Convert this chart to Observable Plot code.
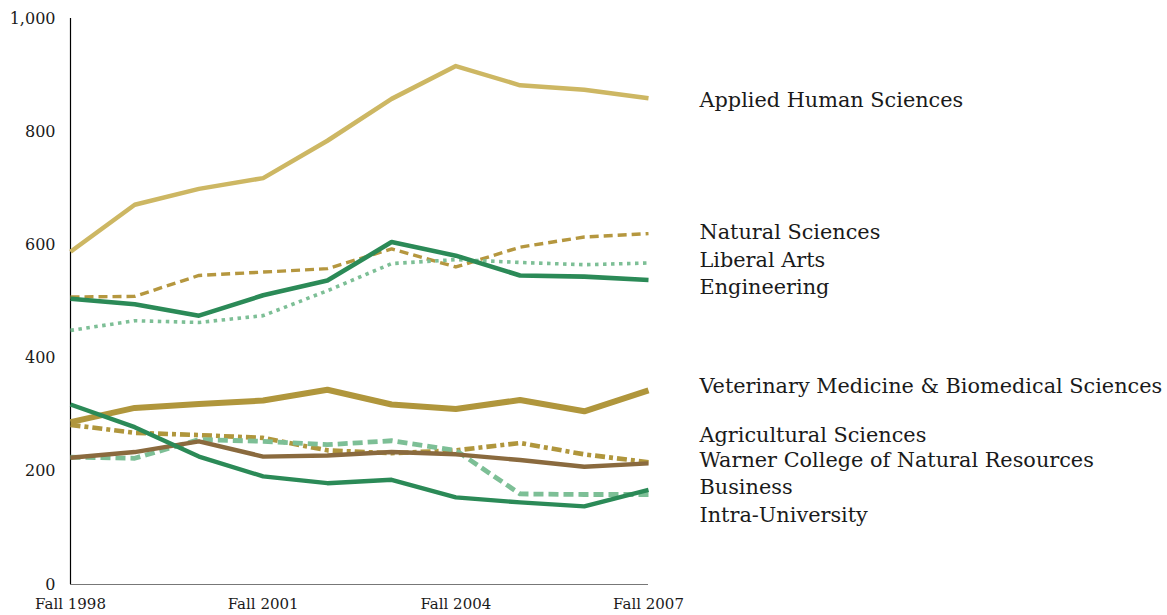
<!DOCTYPE html>
<html>
<head>
<meta charset="utf-8">
<script src="https://cdn.jsdelivr.net/npm/d3@7"></script>
<script src="https://cdn.jsdelivr.net/npm/@observablehq/plot@0.6"></script>
<style>
  html, body { margin: 0; padding: 0; background: #fff; }
  #chart { width: 1167px; height: 615px; }
</style>
</head>
<body>
<div id="chart"></div>
<script>
// ---- data ----
const years = [1998, 1999, 2000, 2001, 2002, 2003, 2004, 2005, 2006, 2007];
const xTicks = [1998, 2001, 2004, 2007];
const yTicks = [0, 200, 400, 600, 800, 1000];

const appliedHumanSciences = [588, 671, 699, 718, 784, 858, 916, 882, 874, 859];
const naturalSciences      = [508, 509, 546, 552, 558, 593, 561, 596, 614, 620];
const liberalArts          = [449, 466, 463, 475, 519, 567, 574, 569, 565, 568];
const engineering          = [505, 495, 475, 511, 537, 605, 581, 546, 544, 538];
const veterinaryMedicine   = [287, 312, 319, 325, 344, 318, 310, 326, 306, 343];
const agriculturalSciences = [282, 268, 264, 259, 237, 232, 237, 250, 230, 216];
const warnerCollege        = [224, 234, 253, 226, 228, 234, 230, 220, 208, 214];
const business             = [225, 223, 256, 253, 247, 254, 237, 160, 159, 159];
const intraUniversity      = [318, 278, 226, 191, 179, 185, 154, 145, 138, 167];

const seriesNames = [
  "Applied Human Sciences", "Natural Sciences", "Liberal Arts", "Engineering",
  "Veterinary Medicine & Biomedical Sciences", "Agricultural Sciences",
  "Warner College of Natural Resources", "Business", "Intra-University"
];
// label anchor values (data units) for the right-hand labels
const labelValues = [855, 622, 572, 525, 350, 263, 219, 171, 122];

// ---- styles ----
const styles = {
  "Applied Human Sciences": {stroke: "#CDB763", strokeWidth: 4.5},
  "Natural Sciences": {stroke: "#B5973F", strokeWidth: 3.4, strokeDasharray: "9,5"},
  "Liberal Arts": {stroke: "#7DBF96", strokeWidth: 3.6, strokeDasharray: "3.5,4.5"},
  "Engineering": {stroke: "#2B8A57", strokeWidth: 4.6},
  "Veterinary Medicine & Biomedical Sciences": {stroke: "#B0963C", strokeWidth: 6},
  "Agricultural Sciences": {stroke: "#B0963C", strokeWidth: 4.6, strokeDasharray: "10,4,4,4"},
  "Warner College of Natural Resources": {stroke: "#8A6A3E", strokeWidth: 4.4},
  "Business": {stroke: "#7DBF96", strokeWidth: 4.8, strokeDasharray: "10,5"},
  "Intra-University": {stroke: "#2B8A57", strokeWidth: 4.4}
};
const valuesByName = {
  "Applied Human Sciences": appliedHumanSciences,
  "Natural Sciences": naturalSciences,
  "Liberal Arts": liberalArts,
  "Engineering": engineering,
  "Veterinary Medicine & Biomedical Sciences": veterinaryMedicine,
  "Agricultural Sciences": agriculturalSciences,
  "Warner College of Natural Resources": warnerCollege,
  "Business": business,
  "Intra-University": intraUniversity
};
const drawOrder = [
  "Applied Human Sciences", "Natural Sciences", "Liberal Arts",
  "Veterinary Medicine & Biomedical Sciences", "Agricultural Sciences",
  "Business", "Warner College of Natural Resources", "Engineering", "Intra-University"
];

const lineMarks = drawOrder.map(name => {
  const rows = years.map((yr, i) => ({year: yr, value: valuesByName[name][i]}));
  return Plot.line(rows, {x: "year", y: "value", strokeLinecap: "butt", strokeLinejoin: "round", ...styles[name]});
});

const labelRows = seriesNames.map((n, i) => ({name: n, year: years[years.length - 1], value: labelValues[i]}));

const chart = Plot.plot({
  width: 1167,
  height: 615,
  marginLeft: 70,
  marginRight: 519,
  marginTop: 18,
  marginBottom: 31,
  style: {fontFamily: "'DejaVu Serif', serif", color: "#1a1a1a", background: "#fff", overflow: "visible"},
  x: {domain: [1998, 2007]},
  y: {domain: [0, 1000]},
  marks: [
    Plot.axisY({ticks: yTicks, tickSize: 0, tickPadding: 15, tickFormat: d3.format(","), fontSize: 16, label: null}),
    Plot.axisX({ticks: xTicks, tickSize: 0, tickPadding: 14, tickFormat: d => "Fall " + d, fontSize: 15, label: null}),
    Plot.ruleY([0], {stroke: "#777", strokeWidth: 1.2}),
    Plot.ruleX([1998], {stroke: "#000", strokeWidth: 1.2}),
    ...lineMarks,
    Plot.text(labelRows, {x: "year", y: "value", text: "name", dx: 51, textAnchor: "start", fontSize: 20.8, fill: "#1a1a1a"})
  ]
});
document.getElementById("chart").appendChild(chart);
</script>
</body>
</html>
